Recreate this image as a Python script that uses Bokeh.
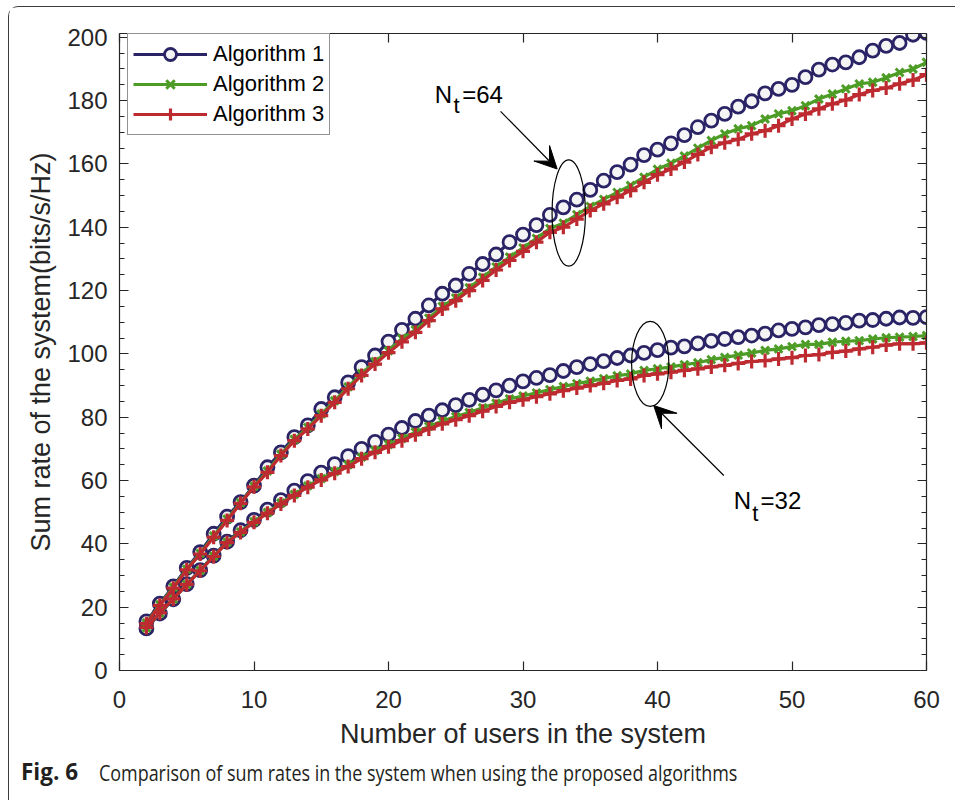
from bokeh.plotting import figure
from bokeh.layouts import column
from bokeh.models import (LinearAxis, SingleIntervalTicker, Range1d, Legend, LegendItem,
                          Label, Arrow, VeeHead, CustomJSTickFormatter, Div)
from bokeh.embed import file_html
from bokeh.resources import INLINE

# ---------------- data ----------------
x_users = list(range(2, 61))

alg1_nt64 = [15.5, 21.1, 26.6, 32.4, 37.4, 43.2, 48.6, 53.2, 58.4, 64.2, 68.9, 73.7, 77.4, 82.6,
             86.3, 91.0, 95.8, 99.5, 103.9, 107.6, 111.1, 115.3, 119.0, 121.6, 125.3, 128.4,
             131.4, 135.3, 137.7, 140.7, 143.9, 146.3, 148.7, 151.8, 154.7, 157.4, 159.8, 162.8,
             164.5, 166.5, 169.1, 171.6, 173.7, 175.8, 178.1, 179.8, 182.3, 183.7, 185.0, 187.4,
             189.8, 191.4, 192.1, 193.7, 195.8, 197.3, 198.2, 200.8, 201.4]
alg2_nt64 = [15.0, 20.8, 26.3, 32.0, 37.0, 42.5, 47.8, 53.0, 58.2, 63.0, 68.3, 73.0, 76.8, 81.0,
             85.2, 89.6, 93.8, 97.5, 101.0, 104.9, 107.6, 111.3, 115.0, 117.7, 120.9, 124.2,
             127.5, 130.6, 133.5, 136.5, 139.6, 141.3, 144.0, 146.6, 148.8, 151.0, 153.2, 155.8,
             158.3, 160.2, 162.5, 165.0, 167.4, 169.5, 171.1, 172.1, 174.2, 175.8, 176.8, 178.4,
             180.5, 182.1, 183.7, 185.3, 185.8, 187.2, 188.9, 190.0, 192.1]
alg3_nt64 = [14.8, 20.6, 26.0, 31.8, 36.8, 42.1, 47.4, 52.8, 58.0, 62.6, 67.9, 72.6, 76.3, 80.5,
             84.7, 89.0, 93.2, 96.8, 100.4, 103.8, 106.8, 110.5, 114.2, 116.8, 120.0, 123.2,
             126.5, 129.5, 132.4, 135.3, 138.4, 140.0, 142.6, 145.3, 147.4, 149.5, 151.6, 154.2,
             156.6, 158.4, 160.6, 163.0, 165.3, 166.7, 167.8, 169.5, 170.5, 172.1, 174.2, 175.8,
             177.4, 179.0, 180.2, 181.9, 183.2, 184.0, 185.3, 186.5, 188.2]

alg1_nt32 = [13.3, 18.0, 22.5, 27.3, 31.7, 36.3, 40.7, 44.3, 47.6, 50.8, 53.8, 56.8, 59.8, 62.5,
             65.2, 67.7, 70.0, 72.2, 74.5, 76.6, 78.8, 80.5, 82.2, 83.8, 85.5, 87.1, 88.5, 90.0,
             91.3, 92.4, 93.3, 94.6, 95.8, 96.8, 97.7, 98.7, 99.5, 100.3, 101.2, 102.0, 102.4,
             103.3, 104.1, 104.7, 105.3, 105.8, 106.4, 107.4, 107.9, 108.4, 109.1, 109.4, 109.8,
             110.5, 110.7, 111.1, 111.5, 111.4, 111.6]
alg2_nt32 = [13.5, 18.1, 22.6, 27.2, 31.6, 36.1, 40.5, 43.8, 47.0, 49.9, 52.9, 55.6, 58.3, 60.6,
             62.8, 65.0, 67.4, 69.5, 71.4, 73.3, 75.3, 77.1, 78.8, 80.2, 81.5, 83.0, 84.4, 85.8,
             86.7, 87.7, 88.7, 89.7, 90.6, 91.4, 92.2, 93.1, 93.7, 94.8, 95.3, 95.9, 96.6, 97.2,
             98.2, 98.9, 99.6, 100.3, 101.1, 101.6, 102.3, 103.0, 103.0, 103.7, 104.0, 104.2,
             104.7, 105.1, 105.3, 105.5, 105.8]
alg3_nt32 = [13.6, 18.2, 22.6, 27.2, 31.5, 36.0, 40.4, 43.6, 46.8, 49.7, 52.6, 55.3, 57.9, 60.2,
             62.3, 64.4, 66.9, 68.9, 70.7, 72.6, 74.5, 76.3, 77.9, 79.2, 80.5, 81.9, 83.4, 84.7,
             85.5, 86.5, 87.4, 88.4, 89.2, 90.0, 90.7, 91.6, 92.1, 93.2, 93.7, 94.2, 94.8, 95.3,
             95.9, 96.4, 97.0, 97.6, 97.9, 98.4, 98.8, 99.5, 99.8, 100.5, 100.9, 101.6, 102.1,
             102.8, 103.2, 103.2, 103.5]

series_names = ["Algorithm 1", "Algorithm 2", "Algorithm 3"]
x_ticks_interval = 10
y_ticks_interval = 20
x_label = "Number of users in the system"
y_label = "Sum rate of the system(bits/s/Hz)"
caption_bold = "Fig. 6"
caption_text = "Comparison of sum rates in the system when using the proposed algorithms"

# ---------------- styling ----------------
FONT = "Liberation Sans"
AX = "#262626"
C1, C2, C3 = "#2a2466", "#4d9c26", "#bd2a30"
LW = 3.2
FIG_W = 946

p = figure(width=FIG_W, height=752, output_backend="svg", toolbar_location=None,
           x_range=Range1d(0, 60), y_range=Range1d(0, 201.2),
           x_axis_type=None, y_axis_type=None,
           min_border_left=110, min_border_right=29, min_border_top=26, min_border_bottom=89,
           background_fill_color="white", border_fill_color="white")
p.outline_line_color = None
p.xgrid.visible = False
p.ygrid.visible = False


def style_axis(ax):
    ax.axis_line_color = AX
    ax.axis_line_width = 1.2
    ax.major_tick_line_color = AX
    ax.minor_tick_line_color = AX
    ax.major_tick_line_width = 1.2
    ax.minor_tick_line_width = 1.2
    ax.major_tick_in = 9
    ax.major_tick_out = 0
    ax.minor_tick_in = 5
    ax.minor_tick_out = 0
    ax.major_label_text_font = FONT
    ax.major_label_text_font_size = "24px"
    ax.major_label_text_color = AX
    ax.axis_label_text_font = FONT
    ax.axis_label_text_font_size = "27px"
    ax.axis_label_text_font_style = "normal"
    ax.axis_label_text_color = AX


xb = LinearAxis(ticker=SingleIntervalTicker(interval=x_ticks_interval, num_minor_ticks=0),
                axis_label=x_label)
style_axis(xb)
xb.major_label_standoff = 20
xb.axis_label_standoff = 8
p.add_layout(xb, "below")

yl = LinearAxis(ticker=SingleIntervalTicker(interval=y_ticks_interval, num_minor_ticks=4),
                axis_label=y_label)
style_axis(yl)
yl.major_label_standoff = 12
yl.axis_label_standoff = 8
p.add_layout(yl, "left")

empty = CustomJSTickFormatter(code="return ''")
xt = LinearAxis(ticker=SingleIntervalTicker(interval=x_ticks_interval, num_minor_ticks=0),
                formatter=empty)
style_axis(xt)
xt.major_label_text_font_size = "8px"
xt.major_label_standoff = 0
p.add_layout(xt, "above")

yr = LinearAxis(ticker=SingleIntervalTicker(interval=y_ticks_interval, num_minor_ticks=4),
                formatter=empty)
style_axis(yr)
yr.major_label_text_font_size = "8px"
yr.major_label_standoff = 0
p.add_layout(yr, "right")

# ---------------- series ----------------
l1 = p.line(x_users, alg1_nt64, line_color=C1, line_width=LW)
s1 = p.scatter(x_users, alg1_nt64, marker="circle", size=13, line_color=C1, line_width=2.8,
               fill_color="#f4f4f4")
p.line(x_users, alg1_nt32, line_color=C1, line_width=LW)
p.scatter(x_users, alg1_nt32, marker="circle", size=13, line_color=C1, line_width=2.8,
          fill_color="#f4f4f4")

l2 = p.line(x_users, alg2_nt64, line_color=C2, line_width=LW)
s2 = p.scatter(x_users, alg2_nt64, marker="x", size=11, line_color=C2, line_width=3)
p.line(x_users, alg2_nt32, line_color=C2, line_width=LW)
p.scatter(x_users, alg2_nt32, marker="x", size=11, line_color=C2, line_width=3)

l3 = p.line(x_users, alg3_nt64, line_color=C3, line_width=LW)
s3 = p.scatter(x_users, alg3_nt64, marker="cross", size=14, line_color=C3, line_width=3.2)
p.line(x_users, alg3_nt32, line_color=C3, line_width=LW)
p.scatter(x_users, alg3_nt32, marker="cross", size=14, line_color=C3, line_width=3.2)

legend = Legend(items=[LegendItem(label=series_names[0], renderers=[l1, s1]),
                       LegendItem(label=series_names[1], renderers=[l2, s2]),
                       LegendItem(label=series_names[2], renderers=[l3, s3])],
                location=(8, 535))
legend.border_line_color = AX
legend.border_line_width = 1
legend.background_fill_color = "white"
legend.background_fill_alpha = 1
legend.padding = 5
legend.spacing = 0
legend.margin = 0
legend.glyph_width = 74
legend.glyph_height = 30
legend.label_height = 30
legend.label_standoff = 6
legend.label_text_font = FONT
legend.label_text_font_size = "22px"
legend.label_text_color = "black"
p.add_layout(legend)

# ---------------- annotations ----------------
p.ellipse(x=[33.4], y=[144.5], width=2.48, height=33.6, fill_color=None,
          line_color="black", line_width=1.2)
p.ellipse(x=[39.46], y=[96.85], width=2.77, height=26.9, fill_color=None,
          line_color="black", line_width=1.2)

p.add_layout(Arrow(end=VeeHead(size=22, fill_color="black", line_color="black"),
                   x_start=28.33, y_start=176.6, x_end=32.54, y_end=158.4,
                   line_color="black", line_width=1.2))
p.add_layout(Arrow(end=VeeHead(size=22, fill_color="black", line_color="black"),
                   x_start=44.93, y_start=61.6, x_end=39.72, y_end=83.7,
                   line_color="black", line_width=1.2))


def nt_label(xn, yb, xt_, ytb, xe, rest):
    p.add_layout(Label(x=xn, y=yb, text="N", text_font=FONT, text_font_size="24px",
                       text_baseline="alphabetic", text_align="left", text_color="black"))
    p.add_layout(Label(x=xt_, y=ytb, text="t", text_font=FONT, text_font_size="22px",
                       text_baseline="alphabetic", text_align="left", text_color="black"))
    p.add_layout(Label(x=xe, y=yb, text=rest, text_font=FONT, text_font_size="24px",
                       text_baseline="alphabetic", text_align="left", text_color="black"))


nt_label(23.44, 181.8, 24.83, 178.4, 25.48, "=64")
nt_label(45.67, 53.7, 47.04, 49.6, 47.66, "=32")

# ---------------- caption ----------------
caption_html = (
    '<div style="position:relative;width:940px;height:41px;font-family:\'Open Sans\';'
    'color:#231f20;line-height:26px;">'
    '<span style="position:absolute;left:12px;top:0px;font-weight:700;font-size:22.5px;'
    'white-space:nowrap;">' + caption_bold + '</span>'
    '<span style="position:absolute;left:90px;top:0px;font-size:22px;white-space:nowrap;'
    'transform:scaleX(0.815);transform-origin:0 50%;">' + caption_text + '</span>'
    '</div>'
)
cap = Div(text=caption_html, width=FIG_W, height=41, margin=(0, 0, 0, 0))

layout = column(p, cap, spacing=0, margin=(6, 0, 0, 8),
                styles={"border-left": "1px solid #3c3c3c",
                        "border-top": "1px solid #3c3c3c",
                        "border-top-left-radius": "10px"})

open("out.html", "w").write(file_html(layout, INLINE))
